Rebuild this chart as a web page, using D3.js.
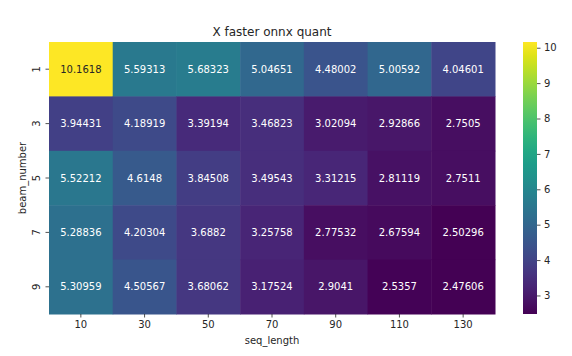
<!DOCTYPE html>
<html><head><meta charset="utf-8">
<script src="https://cdn.jsdelivr.net/npm/d3@7"></script>
<style>body{margin:0;background:#fff;} text{font-family:"DejaVu Sans",sans-serif;}</style>
</head><body>
<svg id="c" width="572" height="356"></svg>
<script>
const seqLength = [10, 30, 50, 70, 90, 110, 130];
const beamNumber = [1, 3, 5, 7, 9];
const row1 = [10.1618, 5.59313, 5.68323, 5.04651, 4.48002, 5.00592, 4.04601];
const row3 = [3.94431, 4.18919, 3.39194, 3.46823, 3.02094, 2.92866, 2.7505];
const row5 = [5.52212, 4.6148, 3.84508, 3.49543, 3.31215, 2.81119, 2.7511];
const row7 = [5.28836, 4.20304, 3.6882, 3.25758, 2.77532, 2.67594, 2.50296];
const row9 = [5.30959, 4.50567, 3.68062, 3.17524, 2.9041, 2.5357, 2.47606];
const colorbarTicks = [3, 4, 5, 6, 7, 8, 9, 10];
const title = "X faster onnx quant";

const rows = [row1, row3, row5, row7, row9];
const cells = [];
rows.forEach((r, i) => r.forEach((v, j) => cells.push({b: beamNumber[i], s: seqLength[j], v})));

const svg = d3.select("#c");
const L = 49, R = 495, T = 42, B = 314;
const x = d3.scaleBand().domain(seqLength).range([L, R]).padding(0);
const y = d3.scaleBand().domain(beamNumber).range([T, B]).padding(0);
const vmin = d3.min(cells, d => d.v), vmax = d3.max(cells, d => d.v);
const color = d3.scaleSequential(d3.interpolateViridis).domain([vmin, vmax]);

function lum(c) {
  const rgb = d3.rgb(c);
  const f = u => { u /= 255; return u <= 0.03928 ? u / 12.92 : Math.pow((u + 0.055) / 1.055, 2.4); };
  return 0.2126 * f(rgb.r) + 0.7152 * f(rgb.g) + 0.0722 * f(rgb.b);
}

svg.append("g").selectAll("rect").data(cells).join("rect")
  .attr("x", d => x(d.s)).attr("y", d => y(d.b))
  .attr("width", x.bandwidth() + 0.5).attr("height", y.bandwidth() + 0.5)
  .attr("fill", d => color(d.v));

svg.append("g").selectAll("text").data(cells).join("text")
  .attr("x", d => x(d.s) + x.bandwidth() / 2)
  .attr("y", d => y(d.b) + y.bandwidth() / 2)
  .attr("text-anchor", "middle").attr("dominant-baseline", "central")
  .attr("font-size", 10)
  .attr("fill", d => lum(color(d.v)) > 0.408 ? "#262626" : "#ffffff")
  .text(d => String(d.v));

// x axis
const xa = svg.append("g").attr("transform", `translate(0,${B})`)
  .call(d3.axisBottom(x).tickSize(3.5).tickPadding(3.5));
xa.select(".domain").remove();
xa.selectAll("line").attr("stroke", "#262626").attr("stroke-width", 0.8);
xa.selectAll("text").attr("font-size", 10).attr("fill", "#262626").attr("font-family", "DejaVu Sans");

// y axis
const ya = svg.append("g").attr("transform", `translate(${L},0)`)
  .call(d3.axisLeft(y).tickSize(3.5).tickPadding(3.5));
ya.select(".domain").remove();
ya.selectAll("line").attr("stroke", "#262626").attr("stroke-width", 0.8);
ya.selectAll("text").attr("font-size", 10).attr("fill", "#262626").attr("font-family", "DejaVu Sans")
  .attr("x", null).attr("dy", null)
  .attr("text-anchor", "middle")
  .attr("transform", "translate(-9,0) rotate(-90)");

// axis labels
svg.append("text").attr("x", (L + R) / 2).attr("y", 344).attr("text-anchor", "middle")
  .attr("font-size", 10).attr("fill", "#262626").text("seq_length");
svg.append("text").attr("transform", `translate(26,${(T + B) / 2}) rotate(-90)`).attr("text-anchor", "middle")
  .attr("font-size", 10).attr("fill", "#262626").text("beam_number");
svg.append("text").attr("x", (L + R) / 2).attr("y", 36).attr("text-anchor", "middle")
  .attr("font-size", 12).attr("fill", "#262626").text(title);

// colorbar
const cbL = 523, cbW = 14;
const defs = svg.append("defs");
const grad = defs.append("linearGradient").attr("id", "g").attr("x1", 0).attr("y1", 1).attr("x2", 0).attr("y2", 0);
d3.range(0, 1.0001, 0.05).forEach(t => grad.append("stop").attr("offset", t).attr("stop-color", d3.interpolateViridis(t)));
svg.append("rect").attr("x", cbL).attr("y", T).attr("width", cbW).attr("height", B - T).attr("fill", "url(#g)");
const cy = d3.scaleLinear().domain([vmin, vmax]).range([B, T]);
const ca = svg.append("g").attr("transform", `translate(${cbL + cbW},0)`)
  .call(d3.axisRight(cy).tickValues(colorbarTicks).tickFormat(d3.format("d")).tickSize(3.5).tickPadding(3.5));
ca.select(".domain").remove();
ca.selectAll("line").attr("stroke", "#262626").attr("stroke-width", 0.8);
ca.selectAll("text").attr("font-size", 10).attr("fill", "#262626").attr("font-family", "DejaVu Sans");
</script>
</body></html>
